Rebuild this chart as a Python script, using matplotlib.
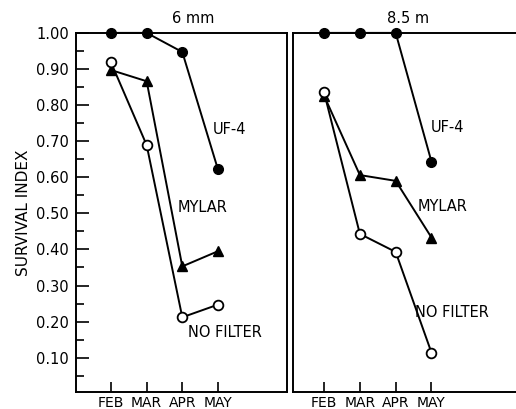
import numpy as np
import matplotlib.pyplot as plt

plt.rcParams['font.family'] = ['DejaVu Sans']

months = ['FEB', 'MAR', 'APR', 'MAY']

# 6 mm panel
uf4_6mm = [1.00, 1.00, 0.947, 0.622]
mylar_6mm = [0.897, 0.866, 0.353, 0.395]
nofilter_6mm = [0.918, 0.689, 0.212, 0.247]

# 8.5 m panel
uf4_85m = [1.00, 1.00, 1.00, 0.643]
mylar_85m = [0.826, 0.606, 0.590, 0.433]
nofilter_85m = [0.835, 0.443, 0.393, 0.114]

yticks = [0.1, 0.2, 0.3, 0.4, 0.5, 0.6, 0.7, 0.8, 0.9, 1.0]

fig = plt.figure(figsize=(5.16, 4.09), dpi=100)
ax1 = fig.add_axes([0.1473, 0.0416, 0.409, 0.878])
ax2 = fig.add_axes([0.567, 0.0416, 0.46, 0.878])

x = np.arange(1, len(months) + 1)


def draw_panel(ax, uf4, mylar, nofilter):
    kw = dict(color='black', lw=1.4, clip_on=False, zorder=3)
    ax.plot(x, uf4, marker='o', ms=7, mfc='black', mec='black', **kw)
    ax.plot(x, mylar, marker='^', ms=7, mfc='black', mec='black', **kw)
    ax.plot(x, nofilter, marker='o', ms=7, mfc='white', mec='black', mew=1.3, **kw)
    ax.set_ylim(0.005, 1.0)
    ax.set_xticks(x)
    ax.set_xticklabels(months, fontsize=10)
    ax.tick_params(axis='x', direction='in', length=7, width=1.2, pad=3)
    for s in ax.spines.values():
        s.set_linewidth(1.4)


draw_panel(ax1, uf4_6mm, mylar_6mm, nofilter_6mm)
ax1.set_xlim(0.017, 5.94)
ax1.set_yticks(yticks)
ax1.set_yticklabels(['%.2f' % v for v in yticks], fontsize=10.5)
ax1.set_yticks(np.arange(0.05, 1.0, 0.1), minor=True)
ax1.tick_params(axis='y', which='major', direction='in', length=9, width=1.2, pad=5)
ax1.tick_params(axis='y', which='minor', direction='in', length=6, width=1.2)
ax1.set_ylabel('SURVIVAL INDEX', fontsize=11, labelpad=4)
ax1.text(3.3, 1.02, '6 mm', ha='center', va='bottom', fontsize=10.5)
ax1.text(4.33, 0.731, 'UF-4', ha='center', va='center', fontsize=10.5)
ax1.text(3.57, 0.515, 'MYLAR', ha='center', va='center', fontsize=10.5)
ax1.text(4.19, 0.169, 'NO FILTER', ha='center', va='center', fontsize=10.5)

draw_panel(ax2, uf4_85m, mylar_85m, nofilter_85m)
ax2.set_xlim(0.12, 6.75)
ax2.set_yticks([])
ax2.spines['right'].set_visible(False)
ax2.text(3.35, 1.02, '8.5 m', ha='center', va='bottom', fontsize=10.5)
ax2.text(4.44, 0.737, 'UF-4', ha='center', va='center', fontsize=10.5)
ax2.text(4.30, 0.518, 'MYLAR', ha='center', va='center', fontsize=10.5)
ax2.text(4.58, 0.224, 'NO FILTER', ha='center', va='center', fontsize=10.5)

fig.savefig('out.png', dpi=100)
